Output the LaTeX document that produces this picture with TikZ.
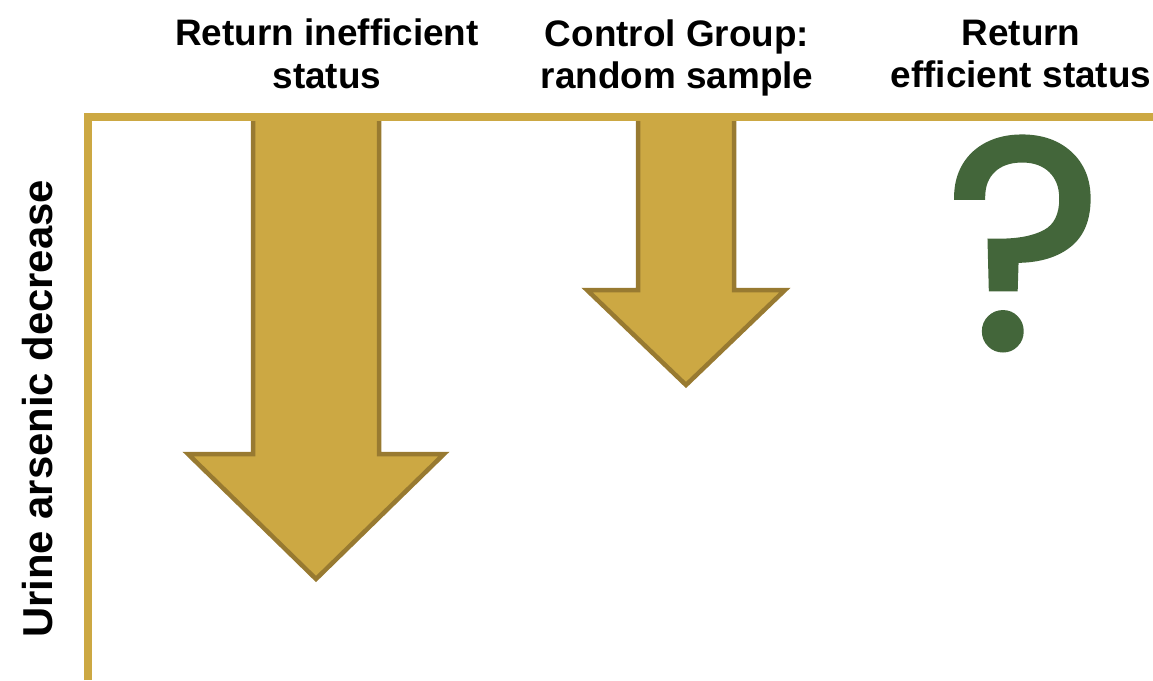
\documentclass[tikz,border=0pt]{standalone}
\usepackage{fontspec}
\setmainfont{Liberation Sans}
\newfontfamily\queryfont[FakeBold=1.8]{Poppins}
\usepackage{xcolor}
\usepackage{tikz}
\usetikzlibrary{positioning}

\definecolor{axisgold}{RGB}{204,168,67}
\definecolor{arrowedge}{RGB}{152,122,49}
\definecolor{qgreen}{RGB}{67,102,58}

\tikzset{
  header/.style={font=\bfseries\fontsize{21}{24.4}\selectfont, align=center, inner sep=0pt},
  downarrow/.style={fill=axisgold, draw=arrowedge, line width=0.09cm, line join=miter},
}

\begin{document}
\begin{tikzpicture}[x=0.02cm,y=-0.02cm]
  \useasboundingbox (0,0) rectangle (1153,680);
  % arrows: centre / shaft half width / head y / head half width / tip y
  \foreach \cx/\sw/\hy/\hw/\ty in {316/63/454/128/579, 686/48/290/99/385} {
    \draw[downarrow] (\cx-\sw,116) -- (\cx-\sw,\hy) -- (\cx-\hw,\hy) -- (\cx,\ty)
      -- (\cx+\hw,\hy) -- (\cx+\sw,\hy) -- (\cx+\sw,116) -- cycle;
  }
  % axes
  \draw[axisgold, line width=0.16cm] (88,680) -- (88,116.7) -- (1153,116.7);
  \node[header] (inefficient) at (327,54) {Return inefficient\\status};
  \node[header] (control) at (677,58) {Control Group:\\random sample};
  \node[header] (efficient) at (1021,54) {Return\\efficient status};
  \node[font=\bfseries\fontsize{23.8}{28}\selectfont, rotate=90, inner sep=0pt] (ylabel) at (38,409) {Urine arsenic decrease};
  \node[text=qgreen, font=\queryfont\fontsize{170}{170}\selectfont, inner sep=0pt, anchor=base] (query) at (1024,348) {?};
\end{tikzpicture}
\end{document}
